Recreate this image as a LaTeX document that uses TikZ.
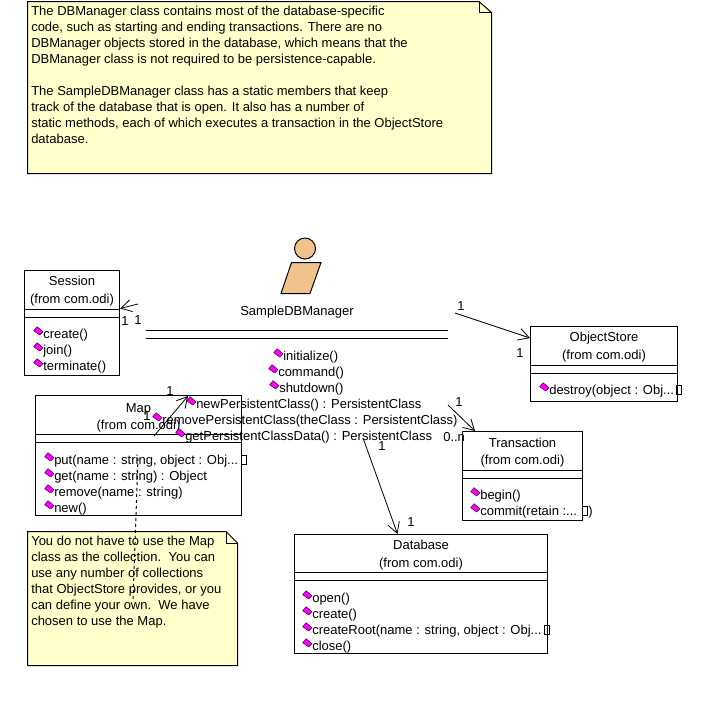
\documentclass[tikz,border=0pt]{standalone}
\usepackage{fontspec}
\setmainfont{Liberation Sans}
\usetikzlibrary{arrows.meta,calc,fit}
\definecolor{notefill}{HTML}{FFFFCC}
\definecolor{actorfill}{HTML}{F0C38C}
\definecolor{iconfill}{HTML}{FF00FF}
\newcommand{\umlfont}{\fontsize{9.75}{12}\selectfont}
\tikzset{
  umlbox/.style={draw=black,line width=.75pt,inner sep=0pt},
  ghost/.style={inner sep=0pt},
  umlline/.style={draw=black,line width=.75pt},
  notebody/.style={draw=black,line width=.75pt,fill=notefill,line join=miter},
  txt/.style={inner sep=0pt,font=\umlfont,text=black},
  wtxt/.style={txt,anchor=base west},
  ctxt/.style={txt,anchor=base},
  notetxt/.style={txt,anchor=north west,align=left},
  assoc/.style={draw=black,line width=.6pt,-{Straight Barb[length=8pt,width=9pt,line width=.6pt]}},
  notelink/.style={draw=black,line width=.75pt,dash pattern=on 2.25pt off 2.25pt},
  icon/.style={draw=black!70!iconfill,line width=.4pt,fill=iconfill,line join=round},
  missing/.style={draw=black,line width=.75pt},
}
% name x1 y1 x2 y2 sep1 sep2 line1 line2 centre y1 y2
\newcommand{\umlclass}[9]{%
  \node[umlbox,fit={(#2,#3)(#4,#5)}] (#1) {};
  \draw[umlline] (#2,#6) -- (#4,#6);
  \draw[umlline] (#2,#7) -- (#4,#7);
  \node[ctxt] (#1-name) at ({(#2+#4)/2},{#3+#8}) {\csname cn#1\endcsname};
  \node[ctxt] (#1-from) at ({(#2+#4)/2},{#3+#9}) {(from com.odi)};
}
\newcommand{\mth}[4]{%
  \path[icon] ({#2-4.3},{#3-3.3}) -- ({#2-1},{#3-7.3}) -- ({#2+5},{#3-2.3}) -- ({#2+1.7},{#3+1}) -- cycle;
  \node[wtxt] (#1) at ({#2+5},{#3+4.5}) {#4};
}
\newcommand{\sq}[2]{\draw[missing] ({#1-2.5},{#2-5}) rectangle ({#1+2.5},{#2+4});}
\def\cnsession{Session}
\def\cnmap{Map}
\def\cnobjectstore{ObjectStore}
\def\cntransaction{Transaction}
\def\cndatabase{Database}
\begin{document}
\begin{tikzpicture}[x=.75pt,y=-.75pt]
\useasboundingbox (0,0) rectangle (720,700);
% Top note
\path[notebody] (27.5,1.5) -- (479,1.5) -- (491.5,12.5) -- (491.5,173.5) -- (27.5,173.5) -- cycle;
\draw[umlline] (479,1.5) -- (479,12.5) -- (491.5,12.5);
\node[notetxt] (topnote) at (31,6) {The DBManager class contains most of the database-specific\\
code, such as starting and ending transactions. There are no\\
DBManager objects stored in the database, which means that the\\
DBManager class is not required to be persistence-capable.\\
\mbox{}\\
The SampleDBManager class has a static members that keep\\
track of the database that is open. It also has a number of\\
static methods, each of which executes a transaction in the ObjectStore\\
database.};
% Lower note
\path[notebody] (27.5,531.5) -- (226,531.5) -- (237.5,543) -- (237.5,665.5) -- (27.5,665.5) -- cycle;
\draw[umlline] (226,531.5) -- (226,543) -- (237.5,543);
\node[notetxt] (mapnote) at (31,536) {You do not have to use the Map\\
class as the collection.\ \ You can\\
use any number of collections\\
that ObjectStore provides, or you\\
can define your own.\ \ We have\\
chosen to use the Map.};
% Classes
\umlclass{session}{24.5}{270.5}{119.5}{375.5}{309.5}{317.5}{15}{33}
\mth{m-create}{38}{334}{create()}
\mth{m-join}{38}{350}{join()}
\mth{m-term}{38}{366}{terminate()}
\umlclass{map}{35.5}{395.5}{241.5}{515.5}{434.5}{442.5}{17}{34}
\mth{m-put}{49}{460}{put(name : string, object : Obj...}
\sq{243.5}{460}
\mth{m-get}{49}{476}{get(name : string) : Object}
\mth{m-remove}{49}{492}{remove(name : string)}
\mth{m-new}{49}{508}{new()}
\umlclass{objectstore}{530.5}{326.5}{677.5}{401.5}{365.5}{373.5}{15}{33}
\mth{m-destroy}{544}{390}{destroy(object : Obj...}
\sq{679}{390}
\umlclass{transaction}{462.5}{431.5}{582.5}{520.5}{470.5}{478.5}{16}{33}
\mth{m-begin}{475}{495}{begin()}
\mth{m-commit}{475}{511}{commit(retain :...}
\sq{585}{511}
\node[wtxt] (commit-end) at (588,515) {)};
\umlclass{database}{294.5}{534.5}{547.5}{653.5}{572.5}{580.5}{15}{33}
\mth{m-open}{307}{598}{open()}
\mth{m-dbcreate}{307}{614}{create()}
\mth{m-root}{307}{630}{createRoot(name : string, object : Obj...}
\sq{546.5}{630}
\mth{m-close}{307}{646}{close()}
% Actor
\draw[umlline,fill=actorfill] (305,248.5) circle (10.5);
\path[draw=black,line width=.75pt,fill=actorfill] (291.5,262.5) -- (321,262.5) -- (310,293.5) -- (281,293.5) -- cycle;
\node[ctxt] (manager) at (297,315.5) {SampleDBManager};
\coordinate (sepL1) at (146,330.5);
\coordinate (sepR1) at (448,330.5);
\coordinate (sepL2) at (146,338.5);
\coordinate (sepR2) at (448,338.5);
\draw[umlline] (sepL1) -- (sepR1);
\draw[umlline] (sepL2) -- (sepR2);
\mth{m-init}{278}{356}{initialize()}
\mth{m-cmd}{273}{372}{command()}
\mth{m-shut}{274}{388}{shutdown()}
\mth{m-newp}{191}{404}{newPersistentClass() : PersistentClass}
\mth{m-remp}{157}{420}{removePersistentClass(theClass : PersistentClass)}
\mth{m-getp}{180}{436}{getPersistentClassData() : PersistentClass}
% Connector ends
\coordinate (fromSession) at (138,304);
\coordinate (fromStore) at (455,313);
\coordinate (fromTrans) at (448,405);
\coordinate (fromDb) at (363,438);
\coordinate (fromMap) at (154,436);
\coordinate (toMap) at (188,396);
\coordinate (dashTop) at (138,458);
\coordinate (dashBot) at (133,600);
\draw[assoc] (fromSession) -- ($(session.north east)+(0,38.5)$);
\draw[assoc] (fromStore) -- ($(objectstore.north west)+(0,12)$);
\draw[assoc] (fromTrans) -- ($(transaction.north west)+(13,0)$);
\draw[assoc] (fromDb) -- ($(database.north west)+(103.5,0)$);
\draw[assoc] (fromMap) -- (toMap);
\draw[notelink] (dashTop) -- (dashBot);
% Multiplicities
\node[ctxt] (l1) at (125,325) {1};
\node[ctxt] (l2) at (138,324) {1};
\node[ctxt] (l3) at (461,310) {1};
\node[ctxt] (l4) at (520,357) {1};
\node[ctxt] (l5) at (459,406) {1};
\node[wtxt] (l6) at (443,441) {0..n};
\node[ctxt] (l7) at (382,450) {1};
\node[ctxt] (l8) at (411,526) {1};
\node[ctxt] (l9) at (170,395) {1};
\node[ctxt] (l10) at (147,420) {1};
\end{tikzpicture}
\end{document}
